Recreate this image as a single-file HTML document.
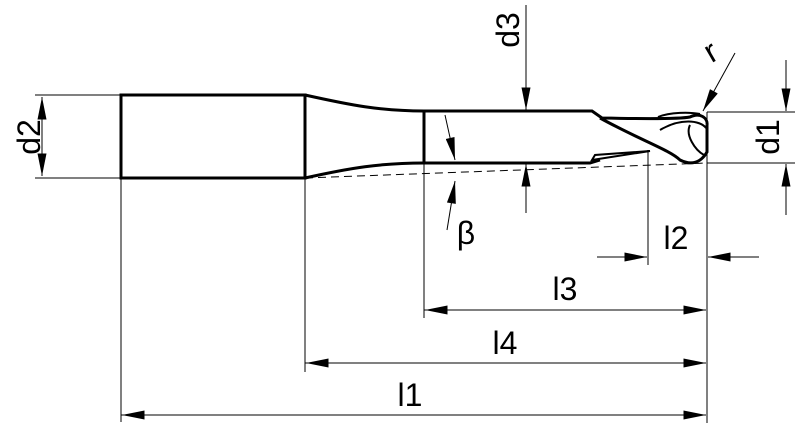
<!DOCTYPE html>
<html><head><style>html,body{margin:0;padding:0;background:#fff}svg{display:block}text{font-family:"Liberation Sans",sans-serif;font-size:32px;fill:#000}</style></head>
<body>
<svg width="800" height="428" viewBox="0 0 800 428" xmlns="http://www.w3.org/2000/svg">
<defs>
<marker id="a" viewBox="0 0 10 4" refX="10" refY="2" markerWidth="26" markerHeight="9" markerUnits="userSpaceOnUse" orient="auto"><path d="M0,0 L10,2 L0,4 z" fill="#000"/></marker>
</defs>
<g fill="none" stroke="#000" stroke-width="3">
<rect x="121" y="95" width="184" height="83"/>
<path d="M305,95 C350,105 380,111 424,111 L592,111 L602,118 C650,119 680,119 690,117 C700,112 708,118 707,125"/>
<path d="M305,178 C350,168 380,163 424,163 L590,163 L600,160"/>
<line x1="424" y1="111" x2="424" y2="163"/>
<path d="M600,118 C640,140 670,150 680,160 C690,165 700,164 707,152 L707,125"/>
</g>
<g fill="none" stroke="#000" stroke-width="2">
<path d="M592,160 L650,151 L595,155 Z"/>
<path d="M660,130 C680,118 700,120 706,128 M690,125 C685,135 695,150 704,155 M658,117 C670,112 690,112 700,114"/>
</g>
<path d="M305,178 L707,163" stroke="#000" stroke-width="1" stroke-dasharray="8,5" fill="none"/>
<g stroke="#000" stroke-width="1" fill="none">
<line x1="35" y1="95" x2="121" y2="95"/><line x1="35" y1="178" x2="121" y2="178"/>
<line x1="42" y1="97" x2="42" y2="176" marker-end="url(#a)"/><line x1="42" y1="176" x2="42" y2="97" marker-end="url(#a)"/>
<line x1="121" y1="178" x2="121" y2="422"/>
<line x1="305" y1="178" x2="305" y2="372"/>
<line x1="424" y1="163" x2="424" y2="318"/>
<line x1="648" y1="150" x2="648" y2="265"/>
<line x1="707" y1="112" x2="707" y2="423"/>
<line x1="707" y1="112" x2="795" y2="112"/><line x1="707" y1="163" x2="795" y2="163"/>
<line x1="786" y1="60" x2="786" y2="111" marker-end="url(#a)"/><line x1="786" y1="215" x2="786" y2="164" marker-end="url(#a)"/>
<line x1="526" y1="5" x2="526" y2="110" marker-end="url(#a)"/><line x1="526" y1="213" x2="526" y2="164" marker-end="url(#a)"/>
<line x1="735" y1="53" x2="703" y2="111" marker-end="url(#a)"/>
<line x1="445" y1="115" x2="455" y2="160" marker-end="url(#a)"/><line x1="447" y1="230" x2="455" y2="181" marker-end="url(#a)"/>
<line x1="597" y1="257" x2="647" y2="257" marker-end="url(#a)"/><line x1="759" y1="257" x2="708" y2="257" marker-end="url(#a)"/>
<line x1="424" y1="310" x2="706" y2="310" marker-end="url(#a)"/><line x1="706" y1="310" x2="425" y2="310" marker-end="url(#a)"/>
<line x1="305" y1="363" x2="706" y2="363" marker-end="url(#a)"/><line x1="706" y1="363" x2="306" y2="363" marker-end="url(#a)"/>
<line x1="121" y1="415" x2="706" y2="415" marker-end="url(#a)"/><line x1="706" y1="415" x2="122" y2="415" marker-end="url(#a)"/>
</g>
<text transform="translate(40,137) rotate(-90)" text-anchor="middle">d2</text>
<text transform="translate(519,30) rotate(-90)" text-anchor="middle">d3</text>
<text transform="translate(779,137) rotate(-90)" text-anchor="middle">d1</text>
<text x="676" y="249" text-anchor="middle">l2</text>
<text x="565" y="300" text-anchor="middle">l3</text>
<text x="505" y="354" text-anchor="middle">l4</text>
<text x="410" y="406" text-anchor="middle">l1</text>
<text x="466" y="244" text-anchor="middle">β</text>
<text x="711" y="62" text-anchor="middle" transform="rotate(-30 711 52)">r</text>
</svg>
</body></html>
